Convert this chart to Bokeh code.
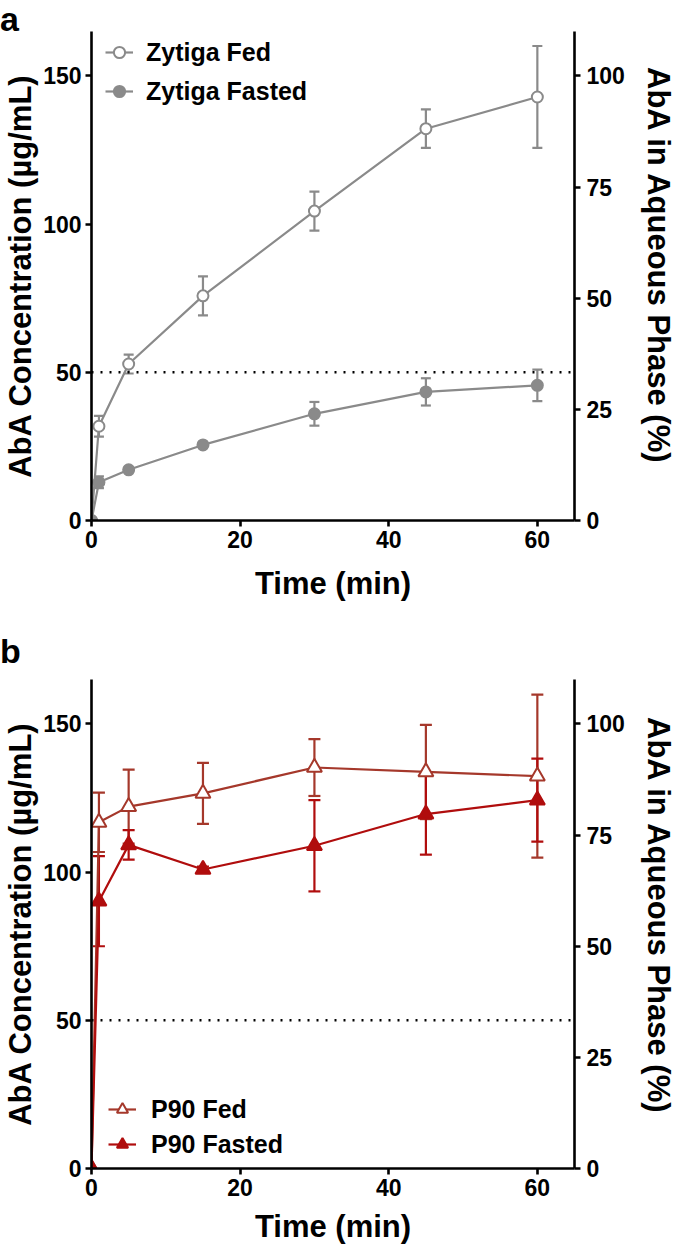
from bokeh.plotting import figure
from bokeh.models import (Range1d, LinearAxis, FixedTicker, Whisker, ColumnDataSource,
                          Span, Legend, LegendItem, TeeHead, Div)
from bokeh.layouts import column, row
from bokeh.embed import file_html
from bokeh.resources import INLINE

# ---- data ----
time_min = [0, 1, 5, 15, 30, 45, 60]

zytiga_fed = [0, 31.8, 52.8, 75.8, 104.4, 132.2, 142.9]
zytiga_fed_sd = [0, 3.5, 3.2, 6.6, 6.6, 6.5, 17.2]
zytiga_fasted = [0, 12.9, 17.1, 25.5, 36.0, 43.4, 45.6]
zytiga_fasted_sd = [0, 2.0, 0.8, 0.8, 4.0, 4.6, 5.3]

p90_fed = [0, 116.8, 122.1, 126.6, 135.3, 133.8, 132.4]
p90_fed_sd = [0, 10.0, 12.5, 10.3, 9.6, 15.9, 27.5]
p90_fasted = [0, 90.2, 109.2, 100.9, 108.9, 119.6, 124.3]
p90_fasted_sd = [0, 15.2, 5.0, 1.0, 15.4, 13.7, 14.0]

x_ticks = [0, 20, 40, 60]
left_ticks = [0, 50, 100, 150]
right_ticks = [0, 25, 50, 75, 100]
threshold = 50
panel_letters = ["a", "b"]
right_title = "AbA in Aqueous Phase (%)"

GRAY = "#8a8a8a"
FED_RED = "#a5382b"
FAST_RED = "#b00d0d"
FONT = "Liberation Sans"
WIDTH = 669
RIGHT_LABEL_W = 35
FIG_W = WIDTH - RIGHT_LABEL_W


def style_axis(ax, label_standoff):
    ax.axis_line_width = 2.6
    ax.axis_line_color = "black"
    ax.major_tick_line_width = 2.6
    ax.major_tick_line_color = "black"
    ax.major_tick_out = 6
    ax.major_tick_in = 0
    ax.minor_tick_out = 0
    ax.minor_tick_in = 0
    ax.major_label_text_font = FONT
    ax.major_label_text_font_style = "bold"
    ax.major_label_text_font_size = "23px"
    ax.major_label_text_color = "black"
    ax.axis_label_text_font = FONT
    ax.axis_label_text_font_style = "bold"
    ax.axis_label_text_font_size = "31px"
    ax.axis_label_text_color = "black"
    ax.axis_label_standoff = label_standoff


def letter_div(letter, height, line_height):
    return Div(text=letter, width=WIDTH, height=height, margin=0,
               styles={"font-family": FONT, "font-size": "34px", "font-weight": "bold",
                       "line-height": f"{line_height}px", "color": "black"})


def right_label_div(height, pad_top):
    return Div(text=(f'<div style="padding-top:{pad_top}px;position:relative;left:7px">'
                     f'{right_title}</div>'),
               width=RIGHT_LABEL_W, height=height, margin=0,
               styles={"font-family": FONT, "font-size": "31px", "font-weight": "bold",
                       "writing-mode": "vertical-rl", "line-height": "35px",
                       "white-space": "nowrap", "color": "black"})


def make_panel(series, height, bottom_b, x_label_standoff, legend_xy, row_spacing, standoff):
    p = figure(width=FIG_W, height=height, x_range=Range1d(0, 65), y_range=Range1d(0, 165),
               output_backend="svg", toolbar_location=None,
               min_border_left=85, min_border_right=FIG_W - 85 - 489,
               min_border_top=0, min_border_bottom=bottom_b)
    p.outline_line_color = None
    p.grid.visible = False
    p.background_fill_color = "white"
    p.border_fill_color = "white"

    p.xaxis.ticker = FixedTicker(ticks=x_ticks)
    p.yaxis.ticker = FixedTicker(ticks=left_ticks)
    p.xaxis.axis_label = "Time (min)"
    p.yaxis.axis_label = "AbA Concentration (\u00b5g/mL)"
    p.xaxis.major_label_standoff = 4
    p.yaxis.major_label_standoff = 4
    style_axis(p.xaxis[0], x_label_standoff)
    style_axis(p.yaxis[0], 2)

    p.extra_y_ranges = {"pct": Range1d(0, 110)}
    right = LinearAxis(y_range_name="pct", ticker=FixedTicker(ticks=right_ticks))
    right.major_label_standoff = 6
    style_axis(right, 0)
    p.add_layout(right, "right")

    p.add_layout(Span(location=threshold, dimension="width", line_color="black",
                      line_width=2.4, line_dash="2 7"))

    items = []
    for name, vals, sds, color, marker, fill, msize, cap in series:
        src = ColumnDataSource(dict(x=time_min[1:],
                                    upper=[v + s for v, s in zip(vals[1:], sds[1:])],
                                    lower=[v - s for v, s in zip(vals[1:], sds[1:])]))
        w = Whisker(base="x", upper="upper", lower="lower", source=src, dimension="height",
                    line_color=color, line_width=2.2)
        w.upper_head = TeeHead(size=cap, line_color=color, line_width=2.2)
        w.lower_head = TeeHead(size=cap, line_color=color, line_width=2.2)
        p.add_layout(w)
        ln = p.line(time_min, vals, line_color=color, line_width=2.2)
        sc = p.scatter(time_min, vals, marker=marker, size=msize, fill_color=fill,
                       line_color=color, line_width=2)
        items.append(LegendItem(label=name, renderers=[ln, sc]))

    leg = Legend(items=items, location=legend_xy, padding=0, spacing=row_spacing,
                 glyph_width=28, glyph_height=30, label_height=30, label_standoff=standoff,
                 label_text_font=FONT, label_text_font_style="bold",
                 label_text_font_size="25px", label_text_color="black",
                 border_line_color=None, background_fill_alpha=0)
    p.add_layout(leg)
    return p


div_a = letter_div(panel_letters[0], 31, 38.4)
pa = make_panel([
    ("Zytiga Fed", zytiga_fed, zytiga_fed_sd, GRAY, "circle", "white", 11, 10),
    ("Zytiga Fasted", zytiga_fasted, zytiga_fasted_sd, GRAY, "circle", GRAY, 11, 10),
], height=596, bottom_b=107, x_label_standoff=15,
   legend_xy=(14, 414), row_spacing=9, standoff=13)
ra = right_label_div(596, 36)

div_b = letter_div(panel_letters[1], 52, 48.4)
pb = make_panel([
    ("P90 Fed", p90_fed, p90_fed_sd, FED_RED, "triangle", "white", 15, 12),
    ("P90 Fasted", p90_fasted, p90_fasted_sd, FAST_RED, "triangle", FAST_RED, 15, 12),
], height=569, bottom_b=80, x_label_standoff=10,
   legend_xy=(17, 9), row_spacing=5, standoff=15)
rb = right_label_div(569, 38)

layout = column(div_a, row(pa, ra, spacing=0), div_b, row(pb, rb, spacing=0), spacing=0)
open("out.html", "w").write(file_html(layout, INLINE))
